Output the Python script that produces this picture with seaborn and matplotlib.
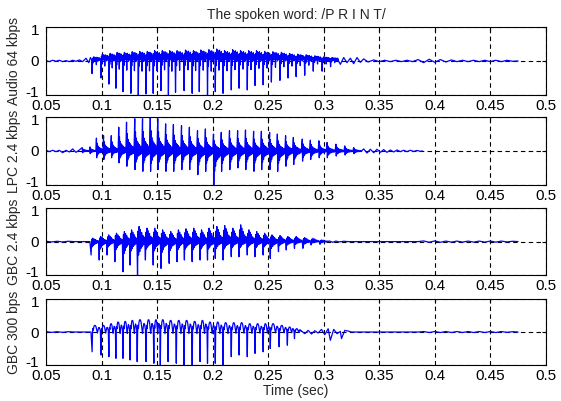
import numpy as np
import pandas as pd
import seaborn as sns
import matplotlib
matplotlib.use('Agg')
import matplotlib.pyplot as plt
from matplotlib.transforms import ScaledTranslation

sns.set_style('white')
plt.rcParams['font.family'] = ['Liberation Sans', 'DejaVu Sans']

x_ticks = [0.05, 0.1, 0.15, 0.2, 0.25, 0.3, 0.35, 0.4, 0.45, 0.5]
x_tick_labels = ['0.05', '0.1', '0.15', '0.2', '0.25', '0.3', '0.35', '0.4', '0.45', '0.5']
y_ticks = [-1, 0, 1]
y_tick_labels = ['-1', '0', '1']
panel_labels = ['Audio 64 kbps', 'LPC 2.4 kbps', 'GBC 2.4 kbps', 'GBC 300 bps']

# ---- Audio 64 kbps: pitch pulse times and peaks
p1_t = [0.0915, 0.0995, 0.1066, 0.1129, 0.1193, 0.1264, 0.1331, 0.1401, 0.1465, 0.1535,
        0.1602, 0.1666, 0.1743, 0.1816, 0.1880, 0.1954, 0.2024, 0.2094, 0.2168, 0.2238,
        0.2312, 0.2382, 0.2455, 0.2529, 0.2606, 0.2679, 0.2752, 0.2829, 0.2906, 0.2986, 0.3062]
p1_neg = [-0.37, -0.5, -0.68, -0.8, -0.9, -0.95, -1.0, -0.97, -0.95, -0.87,
          -1.0, -0.92, -0.87, -0.95, -0.9, -1.0, -0.9, -0.95, -0.85, -0.8,
          -0.85, -0.72, -0.7, -0.62, -0.57, -0.5, -0.46, -0.42, -0.3, -0.3, -0.17]
p1_pos = [0.12, 0.2, 0.22, 0.25, 0.25, 0.27, 0.28, 0.28, 0.3, 0.3,
          0.3, 0.3, 0.32, 0.3, 0.32, 0.33, 0.35, 0.3, 0.33, 0.3,
          0.3, 0.3, 0.28, 0.27, 0.25, 0.22, 0.2, 0.18, 0.15, 0.12, 0.1]
p1_pre_t = [0.05, 0.053, 0.056, 0.059, 0.062, 0.065, 0.068, 0.071, 0.074, 0.077, 0.080, 0.083, 0.086, 0.0885, 0.090]
p1_pre_v = [0.01, -0.02, 0.02, -0.01, 0.02, -0.02, 0.01, -0.02, 0.02, -0.01, 0.03, -0.02, 0.08, -0.05, 0.1]
p1_post_t = [0.312, 0.315, 0.318, 0.321, 0.324, 0.327, 0.330, 0.333, 0.336, 0.340, 0.345, 0.350,
             0.355, 0.360, 0.365, 0.370, 0.375, 0.380, 0.385, 0.390, 0.395, 0.400, 0.405, 0.410,
             0.415, 0.420, 0.425, 0.430, 0.435, 0.440, 0.445, 0.450, 0.455, 0.460, 0.465, 0.470, 0.475]
p1_post_v = [0.08, -0.1, 0.1, -0.05, 0.08, -0.08, 0.1, -0.04, 0.06, -0.03, 0.03, -0.02,
             0.02, -0.02, 0.02, -0.02, 0.02, -0.02, 0.04, -0.05, 0.05, -0.04, 0.04, -0.03,
             0.03, -0.02, 0.02, -0.02, 0.02, -0.02, 0.02, -0.02, 0.02, -0.02, 0.02, -0.01, 0.0]

# ---- LPC 2.4 kbps
p2_t = [0.0826, 0.0896, 0.0954, 0.1018, 0.1088, 0.1155, 0.1225, 0.1299, 0.1369, 0.1439,
        0.1506, 0.1577, 0.1647, 0.1720, 0.1791, 0.1864, 0.1935, 0.2008, 0.2078, 0.2152,
        0.2225, 0.2296, 0.2369, 0.2439, 0.2513, 0.2583, 0.2657, 0.2727, 0.2807, 0.2880,
        0.2957, 0.3030, 0.3110, 0.3190, 0.3270]
p2_pos = [0.1, 0.12, 0.38, 0.45, 0.45, 0.7, 0.85, 0.95, 0.95, 1.0,
          0.95, 0.8, 0.78, 0.75, 0.7, 0.6, 0.65, 0.5, 0.55, 0.6,
          0.6, 0.62, 0.58, 0.58, 0.55, 0.5, 0.45, 0.4, 0.35, 0.32,
          0.3, 0.25, 0.2, 0.15, 0.1]
p2_neg = [-0.05, -0.08, -0.2, -0.25, -0.2, -0.35, -0.45, -0.55, -0.6, -0.6,
          -0.55, -0.6, -0.6, -0.55, -0.55, -0.7, -0.6, -1.0, -0.6, -0.55,
          -0.5, -0.55, -0.6, -0.55, -0.55, -0.6, -0.45, -0.4, -0.3, -0.25,
          -0.2, -0.2, -0.15, -0.12, -0.08]
p2_pre_t = [0.05, 0.053, 0.056, 0.059, 0.062, 0.065, 0.068, 0.071, 0.074, 0.077, 0.080]
p2_pre_v = [0.02, -0.02, 0.02, -0.02, 0.02, -0.05, 0.02, -0.03, 0.06, -0.04, 0.03]
p2_post_t = [0.336, 0.339, 0.342, 0.345, 0.348, 0.351, 0.354, 0.357, 0.360, 0.363,
             0.366, 0.369, 0.372, 0.375, 0.378, 0.381, 0.384, 0.387, 0.389]
p2_post_v = [0.06, -0.06, 0.05, -0.05, 0.05, -0.04, 0.04, -0.04, 0.03, -0.03,
             0.03, -0.02, 0.02, -0.02, 0.02, -0.015, 0.015, -0.01, 0.0]

# ---- GBC 2.4 kbps
p3_t = [0.0906, 0.0979, 0.1050, 0.1120, 0.1193, 0.1257, 0.1324, 0.1395, 0.1465, 0.1535,
        0.1609, 0.1679, 0.1746, 0.1816, 0.1887, 0.1954, 0.2024, 0.2094, 0.2168, 0.2238,
        0.2312, 0.2382, 0.2455, 0.2519, 0.2593, 0.2663, 0.2737, 0.2813, 0.2887, 0.2967]
p3_neg = [-0.4, -0.55, -0.4, -0.6, -0.9, -0.7, -1.0, -0.55, -0.7, -0.8,
          -0.65, -0.6, -0.55, -0.6, -0.55, -0.55, -0.5, -0.55, -0.45, -0.45,
          -0.4, -0.45, -0.4, -0.5, -0.3, -0.25, -0.2, -0.2, -0.1, -0.08]
p3_pos = [0.1, 0.15, 0.2, 0.25, 0.3, 0.35, 0.45, 0.4, 0.4, 0.35,
          0.3, 0.35, 0.38, 0.4, 0.35, 0.4, 0.45, 0.48, 0.4, 0.5,
          0.35, 0.3, 0.25, 0.2, 0.18, 0.15, 0.15, 0.12, 0.1, 0.05]
p3_pre_t = [0.05, 0.055, 0.06, 0.065, 0.07, 0.075, 0.0895]
p3_pre_v = [0.01, -0.01, 0.01, -0.01, 0.01, 0.0, 0.0]
p3_post_t = [0.305, 0.308, 0.311, 0.314, 0.318, 0.322, 0.385, 0.39, 0.395, 0.40, 0.405, 0.41,
             0.415, 0.42, 0.425, 0.43, 0.435, 0.44, 0.445, 0.45, 0.455, 0.46, 0.465, 0.47, 0.475]
p3_post_v = [0.02, -0.02, 0.015, -0.01, 0.01, 0.0, 0.0, 0.02, -0.02, 0.02, -0.02, 0.015,
             -0.015, 0.015, -0.015, 0.015, -0.015, 0.015, -0.015, 0.015, -0.015, 0.015, -0.01, 0.01, 0.0]

# ---- GBC 300 bps
p4_t = [0.0915, 0.0995, 0.1066, 0.1129, 0.1193, 0.1257, 0.1321, 0.1401, 0.1471, 0.1529,
        0.1599, 0.1673, 0.1743, 0.1816, 0.1887, 0.1954, 0.2024, 0.2094, 0.2168, 0.2238,
        0.2312, 0.2382, 0.2455, 0.2519, 0.2599, 0.2673, 0.2737]
p4_neg = [-0.6, -0.7, -0.75, -0.8, -0.8, -0.85, -0.9, -0.9, -0.95, -1.0,
          -0.9, -0.95, -1.0, -1.0, -0.9, -0.95, -0.95, -1.0, -0.75, -0.7,
          -0.75, -0.65, -0.6, -0.5, -0.45, -0.4, -0.2]
p4_pos = [0.2, 0.2, 0.25, 0.3, 0.32, 0.35, 0.37, 0.37, 0.37, 0.37,
          0.35, 0.35, 0.35, 0.32, 0.35, 0.3, 0.3, 0.28, 0.28, 0.28,
          0.25, 0.25, 0.25, 0.25, 0.2, 0.15, 0.1]
p4_pre_t = [0.05, 0.055, 0.06, 0.065, 0.07, 0.075, 0.0905]
p4_pre_v = [0.01, -0.01, 0.01, -0.01, 0.01, 0.0, 0.0]
p4_post_t = [0.280, 0.283, 0.286, 0.289, 0.292, 0.295, 0.298, 0.301, 0.304, 0.306, 0.309, 0.312,
             0.315, 0.316, 0.319, 0.322, 0.325, 0.385, 0.39, 0.395, 0.40, 0.405, 0.41, 0.415,
             0.42, 0.425, 0.43, 0.435, 0.44, 0.445, 0.45, 0.455, 0.46, 0.465, 0.47, 0.475]
p4_post_v = [0.03, -0.05, 0.05, -0.06, 0.04, -0.03, 0.08, -0.08, 0.1, -0.25, 0.08, -0.05,
             0.02, -0.2, 0.05, 0.03, 0.0, 0.0, 0.015, -0.015, 0.015, -0.015, 0.015, -0.015,
             0.015, -0.015, 0.015, -0.015, 0.015, -0.015, 0.015, -0.015, 0.015, -0.01, 0.01, 0.0]

# waveform shape inside one pitch period: (fraction of period, use neg/pos peak, scale)
shape_audio = [(-0.05, 'p', 0.3), (0.0, 'n', 1.0), (0.06, 'p', 0.7), (0.12, 'n', 0.15), (0.18, 'p', 1.0),
               (0.24, 'p', 0.1), (0.30, 'p', 0.9), (0.36, 'p', 0.2), (0.42, 'p', 0.8), (0.48, 'n', 0.3),
               (0.54, 'p', 0.9), (0.60, 'p', 0.2), (0.66, 'p', 0.7), (0.72, 'p', 0.0), (0.78, 'p', 0.8),
               (0.84, 'p', 0.2), (0.90, 'p', 0.6)]
shape_lpc = [(0.0, 'p', 1.0), (0.04, 'n', 1.0), (0.09, 'p', 0.6), (0.14, 'n', 0.6), (0.20, 'p', 0.4),
             (0.26, 'n', 0.45), (0.32, 'p', 0.3), (0.38, 'n', 0.3), (0.45, 'p', 0.25), (0.52, 'n', 0.25),
             (0.60, 'p', 0.2), (0.68, 'n', 0.2), (0.76, 'p', 0.15), (0.84, 'n', 0.15), (0.92, 'p', 0.1)]
shape_gbc = [(0.0, 'n', 1.0), (0.07, 'p', 0.7), (0.13, 'n', 0.4), (0.20, 'p', 1.0), (0.28, 'n', 0.3),
             (0.36, 'p', 0.8), (0.44, 'n', 0.2), (0.52, 'p', 0.6), (0.60, 'n', 0.15), (0.68, 'p', 0.4),
             (0.76, 'n', 0.1), (0.84, 'p', 0.3), (0.92, 'p', 0.05)]
shape_gbc300 = [(0.0, 'n', 1.0), (0.05, 'p', 0.0), (0.09, 'p', 0.55), (0.14, 'p', 0.3), (0.20, 'p', 0.8),
                (0.27, 'p', 1.0), (0.36, 'p', 1.0), (0.44, 'p', 0.8), (0.52, 'p', 0.3), (0.60, 'n', 0.05),
                (0.68, 'p', 0.4), (0.76, 'p', 0.7), (0.84, 'p', 0.6), (0.93, 'p', 0.2)]


def build(pre_t, pre_v, times, neg, pos, shape, post_t, post_v):
    xs, ys = list(pre_t), list(pre_v)
    for i, t in enumerate(times):
        T = times[i + 1] - t if i + 1 < len(times) else t - times[i - 1]
        for f, kind, k in shape:
            xs.append(t + f * T)
            ys.append(k * (neg[i] if kind == 'n' else pos[i]))
    xs += post_t
    ys += post_v
    return pd.DataFrame({'t': xs, 'v': ys})


signals = [
    build(p1_pre_t, p1_pre_v, p1_t, p1_neg, p1_pos, shape_audio, p1_post_t, p1_post_v),
    build(p2_pre_t, p2_pre_v, p2_t, p2_neg, p2_pos, shape_lpc, p2_post_t, p2_post_v),
    build(p3_pre_t, p3_pre_v, p3_t, p3_neg, p3_pos, shape_gbc, p3_post_t, p3_post_v),
    build(p4_pre_t, p4_pre_v, p4_t, p4_neg, p4_pos, shape_gbc300, p4_post_t, p4_post_v),
]

fig = plt.figure(figsize=(5.61, 4.01), dpi=100)
boxes = [[0.082, 0.763, 0.891, 0.17], [0.082, 0.539, 0.891, 0.169],
         [0.082, 0.314, 0.891, 0.167], [0.082, 0.090, 0.891, 0.164]]

for i, df in enumerate(signals):
    ax = fig.add_axes(boxes[i])
    sns.lineplot(data=df, x='t', y='v', ax=ax, color='blue', linewidth=0.9,
                 estimator=None, sort=False)
    ax.set_xlim(0.05, 0.5)
    ax.set_ylim(-1, 1)
    ax.set_xticks(x_ticks)
    ax.set_xticklabels(x_tick_labels)
    ax.set_yticks(y_ticks)
    ax.set_yticklabels(y_tick_labels)
    ax.grid(True, color='black', linestyle=(0, (4, 3)), linewidth=0.8)
    ax.tick_params(direction='in', length=3, width=0.8, top=True, right=True,
                   labelsize=11, colors='black')
    ax.tick_params(axis='x', pad=3)
    ax.tick_params(axis='y', pad=5)
    # nudge the "-1" and "1" labels inwards so they clear the x tick labels
    lo, hi = ax.get_yticklabels()[0], ax.get_yticklabels()[2]
    lo.set_transform(lo.get_transform() + ScaledTranslation(0, 0.035, fig.dpi_scale_trans))
    hi.set_transform(hi.get_transform() + ScaledTranslation(0, -0.025, fig.dpi_scale_trans))
    for s in ax.spines.values():
        s.set_color('black')
        s.set_linewidth(0.8)
    ax.set_ylabel(panel_labels[i], fontsize=10, labelpad=3)
    ax.set_xlabel('')
    if i == 0:
        ax.set_title('The spoken word: /P R I N T/', fontsize=10, pad=6)
    if i == 3:
        ax.set_xlabel('Time (sec)', fontsize=10, labelpad=1)

fig.savefig('out.png', dpi=100, facecolor='white')
